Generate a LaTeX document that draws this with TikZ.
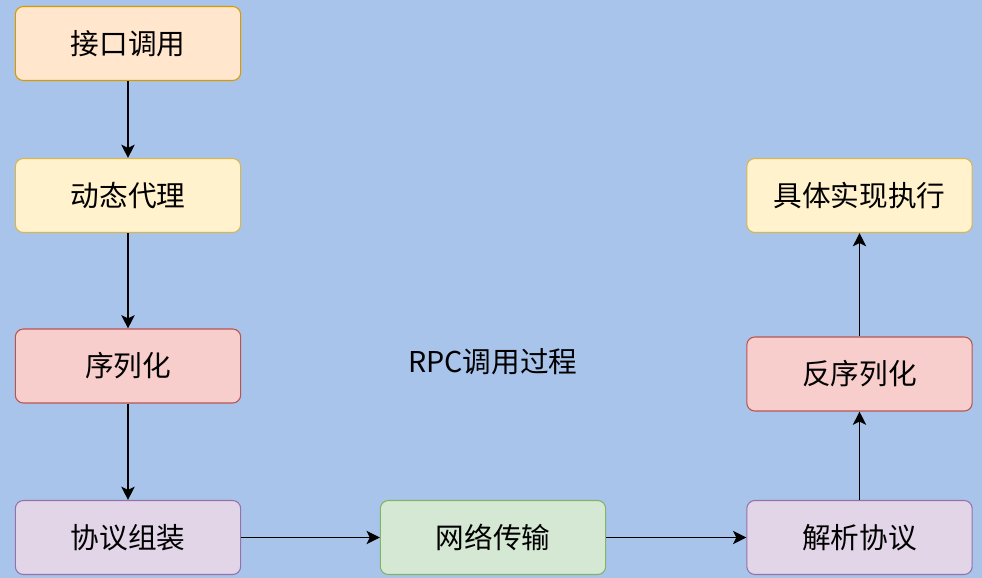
\documentclass[tikz,border=0pt]{standalone}
\usepackage{fontspec}
\setmainfont{Noto Sans CJK SC}
\usetikzlibrary{arrows.meta}
\definecolor{bg}{HTML}{A9C4EB}
\definecolor{orangef}{HTML}{FFE6CC}\definecolor{oranged}{HTML}{D79B00}
\definecolor{yellowf}{HTML}{FFF2CC}\definecolor{yellowd}{HTML}{D6B656}
\definecolor{redf}{HTML}{F8CECC}\definecolor{redd}{HTML}{B85450}
\definecolor{purplef}{HTML}{E1D5E7}\definecolor{purpled}{HTML}{9673A6}
\definecolor{greenf}{HTML}{D5E8D4}\definecolor{greend}{HTML}{82B366}
\tikzset{
	box/.style={draw, rounded corners=6pt, minimum width=169pt, minimum height=55.5pt, line width=0.8pt, font=\fontsize{21.5}{26}\selectfont},
	orangebox/.style={box, fill=orangef, draw=oranged},
	yellowbox/.style={box, fill=yellowf, draw=yellowd},
	redbox/.style={box, fill=redf, draw=redd},
	purplebox/.style={box, fill=purplef, draw=purpled},
	greenbox/.style={box, fill=greenf, draw=greend},
	flow/.style={-{Stealth[length=10pt,width=10pt,inset=2.5pt]}, line width=1pt}
}
\begin{document}
\begin{tikzpicture}[x=0.75pt, y=-0.75pt]

	\fill[bg] (0,0) rectangle (982,578);
	\useasboundingbox (0,0) rectangle (982,578);

	\node[orangebox] (jiekou) at (128,43.5) {接口调用};
	\node[yellowbox] (daili) at (128,195.5) {动态代理};
	\node[redbox] (xulie) at (128,366) {序列化};
	\node[purplebox] (zuzhuang) at (128,537.5) {协议组装};
	\node[greenbox] (wangluo) at (493,537.5) {网络传输};
	\node[purplebox] (jiexi) at (859.5,537.5) {解析协议};
	\node[redbox] (fanxulie) at (859.5,374) {反序列化};
	\node[yellowbox] (zhixing) at (859.5,195.5) {具体实现执行};

	\node[font=\fontsize{21.5}{26}\selectfont] (title) at (493,362) {RPC调用过程};

	\draw[flow] (jiekou) -- (daili);
	\draw[flow] (daili) -- (xulie);
	\draw[flow] (xulie) -- (zuzhuang);
	\draw[flow] (zuzhuang) -- (wangluo);
	\draw[flow] (wangluo) -- (jiexi);
	\draw[flow] (jiexi) -- (fanxulie);
	\draw[flow] (fanxulie) -- (zhixing);

\end{tikzpicture}
\end{document}
